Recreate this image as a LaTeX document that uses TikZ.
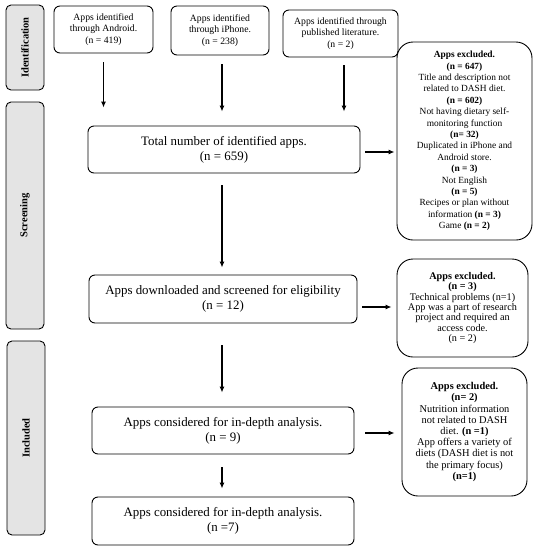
\documentclass[tikz,border=0pt]{standalone}
\usepackage{fontspec}
\setmainfont{Liberation Serif}
\usepackage{xcolor}
\usepackage{tikz}
\usetikzlibrary{arrows.meta,positioning}
\definecolor{ink}{HTML}{000000}
\definecolor{phase}{HTML}{E4E4E4}

\begin{document}
\begin{tikzpicture}[
    x=1pt, y=-1pt,
    box/.style={rounded corners=6pt, draw=ink, line width=0.9pt, fill=white, align=center, inner sep=1pt, font=\fontsize{12.9}{15}\selectfont},
    srcbox/.style={box, font=\fontsize{9.7}{11.5}\selectfont},
    exbox/.style={box, rounded corners=16pt, font=\fontsize{9.4}{11.4}\selectfont},
    phasebox/.style={rounded corners=5pt, draw=ink, line width=0.9pt, fill=phase, minimum width=38pt},
    phasetext/.style={rotate=90, font=\fontsize{10.5}{12}\selectfont\bfseries},
    arr/.style={-{Latex[length=6pt,width=5pt]}, line width=1.1pt, draw=ink}
  ]
  \useasboundingbox (0,0) rectangle (537,550);

  % Phases
  \node[phasebox, minimum height=85pt] (ident) at (25,47.5) {};
  \node[phasetext] at (ident) {Identification};
  \node[phasebox, minimum height=227pt] (screen) at (25,215.5) {};
  \node[phasetext] at (screen) {Screening};
  \node[phasebox, minimum height=194pt] (incl) at (26,438) {};
  \node[phasetext] at (incl) {Included};

  % Sources
  \node[srcbox, minimum width=99pt, minimum height=47pt] (android) at (103.5,29.5) {Apps identified\\through Android.\\(n = 419)};
  \node[srcbox, minimum width=98pt, minimum height=49pt] (iphone) at (220,30.5) {Apps identified\\through iPhone.\\(n = 238)};
  \node[srcbox, minimum width=115pt, minimum height=47pt] (lit) at (340.5,33.5) {Apps identified through\\published literature.\\(n = 2)};

  % Main flow
  \node[box, minimum width=272pt, minimum height=47pt] (total) at (224,149.5) {Total number of identified apps.\\(n = 659)};
  \node[box, minimum width=268pt, minimum height=48pt] (dl) at (223,299) {Apps downloaded and screened for eligibility\\(n = 12)};
  \node[box, minimum width=262pt, minimum height=47pt] (depth) at (223,430.5) {Apps considered for in-depth analysis.\\(n = 9)};
  \node[box, minimum width=262pt, minimum height=48pt] (final) at (223,521) {Apps considered for in-depth analysis.\\(n =7)};

  % Exclusions
  \node[exbox, minimum width=135pt, minimum height=198pt] (exA) at (464.5,141) {\textbf{Apps excluded.}\\\textbf{(n = 647)}\\Title and description not\\related to DASH diet.\\\textbf{(n = 602)}\\Not having dietary self-\\monitoring function\\\textbf{(n= 32)}\\Duplicated in iPhone and\\Android store.\\\textbf{(n = 3)}\\Not English\\\textbf{(n = 5)}\\Recipes or plan without\\information \textbf{(n = 3)}\\Game \textbf{(n = 2)}};
  \node[exbox, minimum width=131pt, minimum height=98pt, font=\fontsize{10.2}{10.4}\selectfont] (exB) at (462.5,308) {\textbf{Apps excluded.}\\\textbf{(n = 3)}\\Technical problems (n=1)\\App was a part of research\\project and required an\\access code.\\(n = 2)};
  \node[exbox, minimum width=125pt, minimum height=128pt, font=\fontsize{10.4}{11.2}\selectfont] (exC) at (464.5,432) {\textbf{Apps excluded.}\\\textbf{(n= 2)}\\Nutrition information\\not related to DASH\\diet. \textbf{(n =1)}\\App offers a variety of\\diets (DASH diet is not\\the primary focus)\\\textbf{(n=1)}};

  \draw[arr, shorten <=9pt, shorten >=18pt] (android.south) -- (android.south |- total.north);
  \draw[arr, shorten <=9pt, shorten >=14pt] ([xshift=2pt]iphone.south) -- ([xshift=2pt]iphone.south |- total.north);
  \draw[arr, shorten <=8pt, shorten >=14pt] ([xshift=3.5pt]lit.south) -- ([xshift=3.5pt]lit.south |- total.north);
  \draw[arr, shorten <=12pt, shorten >=7pt] ([xshift=-2pt]total.south) -- ([xshift=-2pt]total.south |- dl.north);
  \draw[arr, shorten <=22pt, shorten >=14pt] ([xshift=-1pt]dl.south) -- ([xshift=-1pt]dl.south |- depth.north);
  \draw[arr, shorten <=13pt, shorten >=8pt] ([xshift=-1pt]depth.south) -- ([xshift=-1pt]depth.south |- final.north);

  \draw[arr, shorten <=5pt, shorten >=2pt] ([yshift=-2.5pt]total.east) -- ([yshift=-2.5pt]total.east -| exA.west);
  \draw[arr, shorten <=5pt, shorten >=5pt] ([yshift=-8pt]dl.east) -- ([yshift=-8pt]dl.east -| exB.west);
  \draw[arr, shorten <=11pt, shorten >=7pt] ([yshift=-2.5pt]depth.east) -- ([yshift=-2.5pt]depth.east -| exC.west);
\end{tikzpicture}
\end{document}
